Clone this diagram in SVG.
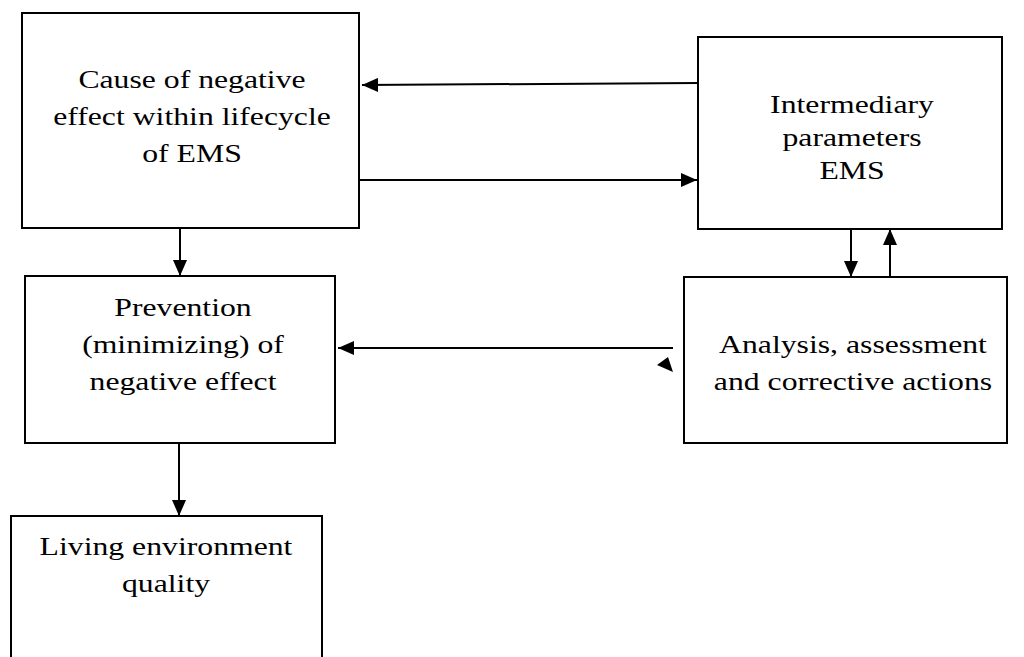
<svg xmlns="http://www.w3.org/2000/svg" width="1024" height="657" viewBox="0 0 1024 657">
<style>
.box{fill:#fff;stroke:#000;stroke-width:2}
.lbl{font-family:"Liberation Serif","Times New Roman",serif;font-size:26px;fill:#000;text-anchor:middle}
.con{stroke:#000;stroke-width:2;fill:none;marker-end:url(#ah)}
</style>
<defs>
<marker id="ah" markerUnits="userSpaceOnUse" markerWidth="16" markerHeight="14" refX="16" refY="7" orient="auto">
<path d="M0,0 L16,7 L0,14 Z" fill="#000"/>
</marker>
</defs>
<rect width="1024" height="657" fill="#fff"/>
<g id="cause">
<rect class="box" x="22" y="13" width="337" height="215"/>
<text class="lbl" transform="matrix(1.22 0 0 1 192 0)"><tspan x="0" y="88">Cause of negative</tspan><tspan x="0" y="125">effect within lifecycle</tspan><tspan x="0" y="162">of EMS</tspan></text>
</g>
<g id="intermediary">
<rect class="box" x="698" y="37" width="304" height="192"/>
<text class="lbl" transform="matrix(1.22 0 0 1 852 0)"><tspan x="0" y="113">Intermediary</tspan><tspan x="0" y="146">parameters</tspan><tspan x="0" y="179">EMS</tspan></text>
</g>
<g id="prevention">
<rect class="box" x="25" y="276" width="310" height="167"/>
<text class="lbl" transform="matrix(1.22 0 0 1 183 0)"><tspan x="0" y="316">Prevention</tspan><tspan x="0" y="353">(minimizing) of</tspan><tspan x="0" y="390">negative effect</tspan></text>
</g>
<g id="analysis">
<rect class="box" x="684" y="277" width="323" height="166"/>
<text class="lbl" transform="matrix(1.22 0 0 1 853 0)"><tspan x="0" y="353">Analysis, assessment</tspan><tspan x="0" y="390">and corrective actions</tspan></text>
</g>
<g id="living">
<rect class="box" x="11" y="516" width="311" height="160"/>
<text class="lbl" transform="matrix(1.22 0 0 1 166 0)"><tspan x="0" y="555">Living environment</tspan><tspan x="0" y="592">quality</tspan></text>
</g>
<g id="connectors">
<line class="con" x1="698" y1="83" x2="362" y2="85"/>
<line class="con" x1="360" y1="180" x2="697" y2="180"/>
<line class="con" x1="180" y1="228" x2="180" y2="276"/>
<line class="con" x1="851" y1="229" x2="851" y2="277"/>
<line class="con" x1="890" y1="277" x2="890" y2="229"/>
<line class="con" x1="673" y1="348" x2="338" y2="348"/>
<line class="con" x1="179" y1="443" x2="179" y2="516"/>
<polygon points="657,365 668,357 673,372" fill="#000"/>
</g>
</svg>
